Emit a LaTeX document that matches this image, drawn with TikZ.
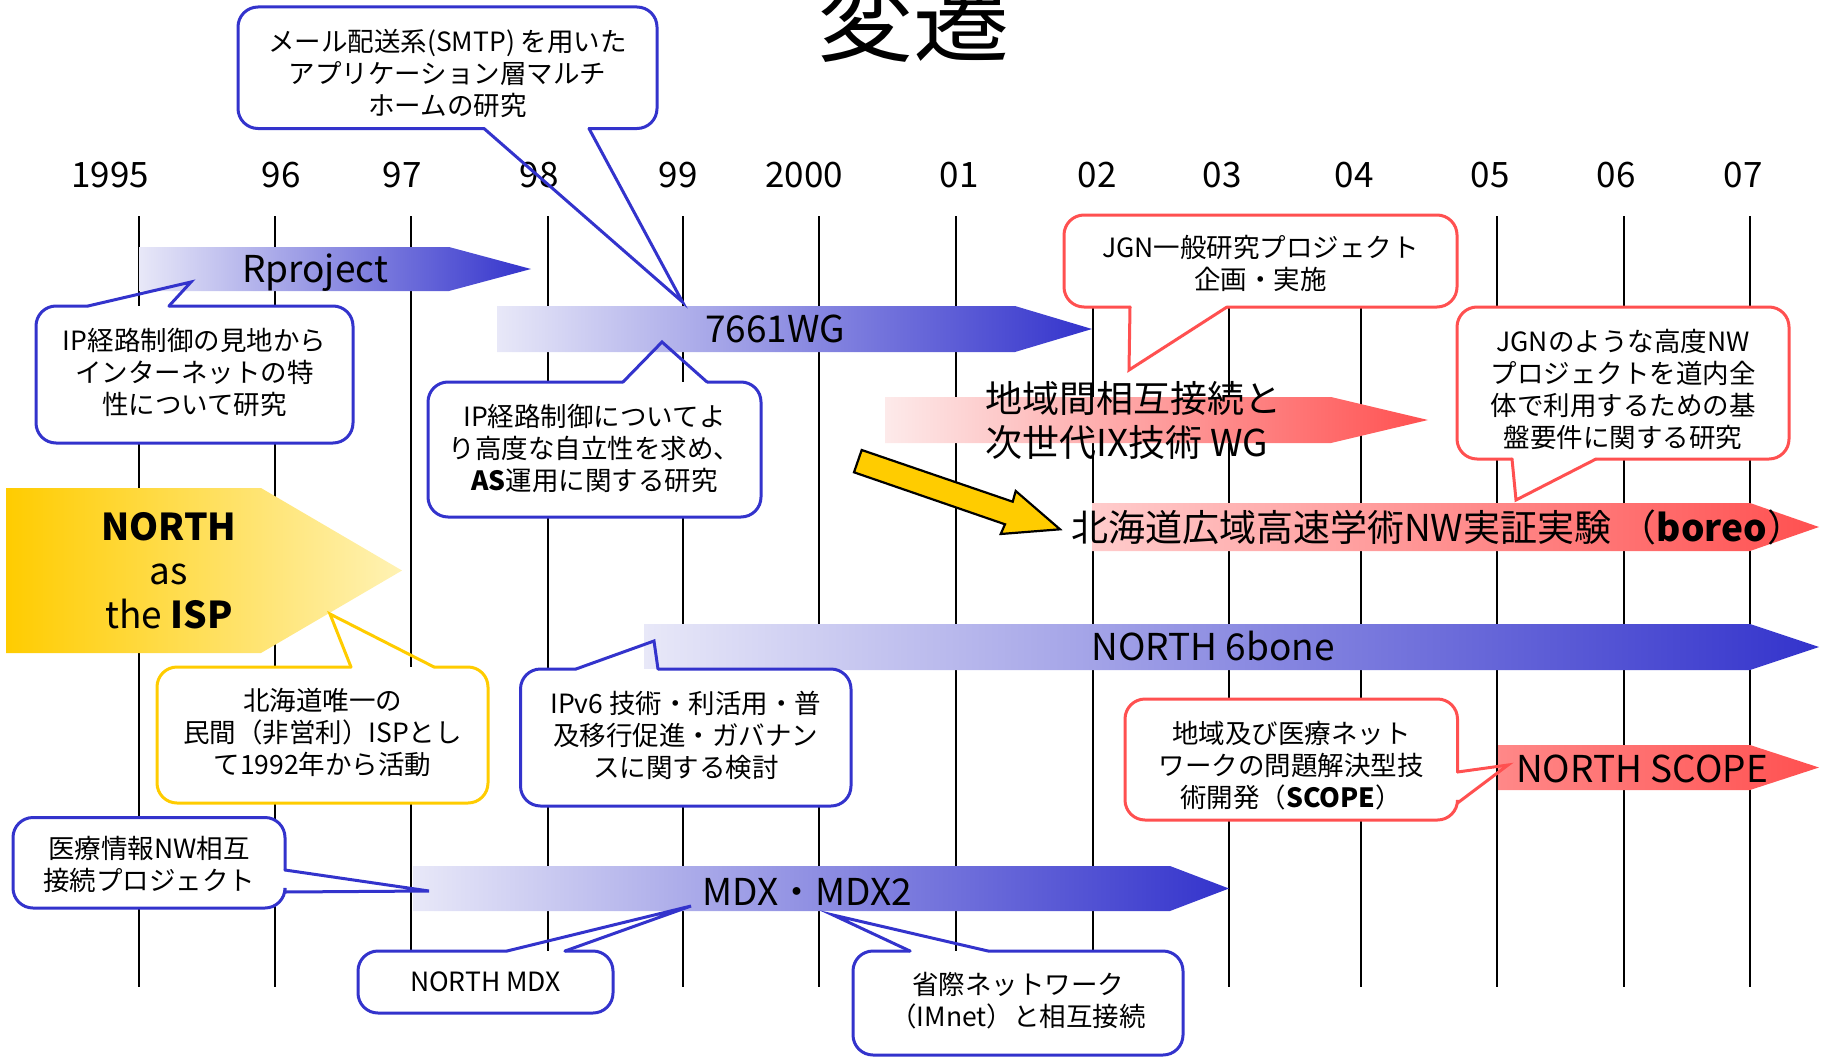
\documentclass[tikz,border=0pt]{standalone}
\usepackage{fontspec}
\setmainfont{Noto Sans CJK JP}

\definecolor{nblue}{RGB}{51,51,204}
\definecolor{nlav}{RGB}{232,232,248}
\definecolor{nred}{RGB}{255,80,80}
\definecolor{npink}{RGB}{253,234,234}
\definecolor{nrose}{RGB}{255,204,204}
\definecolor{nsalmon}{RGB}{255,136,136}
\definecolor{nyellow}{RGB}{255,204,0}
\definecolor{nlemon}{RGB}{255,242,180}

% bar: left colour, right colour, x start, x head, x tip, y top, y bottom
\newcommand\timebar[7]{%
	\shade[left color=#1, right color=#2] (#3,#6) -- (#4,#6) -- (#5,{(#6+#7)/2}) -- (#4,#7) -- (#3,#7) -- cycle;}

\tikzset{
	bubble/.style = {fill=white, rounded corners=20, inner sep=0, outer sep=0},
	note/.style = {inner sep=0, align=center, font=\fontsize{26.5}{32}\selectfont},
	rim/.style = {line width=3, rounded corners=20, line cap=round},
	beak/.style = {line width=3, line cap=round, line join=miter},
	bartext/.style = {font=\fontsize{37}{44}\selectfont, inner sep=0, anchor=base},
	year/.style = {font=\fontsize{35}{40}\selectfont, inner sep=0, anchor=base},
}

\begin{document}
\begin{tikzpicture}[x=1pt, y=-1pt]
	\useasboundingbox (0,0) rectangle (1825,1057);
	
	%	title
	\node[font=\fontsize{96}{96}\selectfont, anchor=base, inner sep=0] (title) at (913,55) {変遷};
	
	%	years
	\foreach \x/\yr in {110/1995, 281/96, 402/97, 539/98, 678/99, 804/2000, 959/01, 1097/02, 1222/03, 1354/04, 1490/05, 1616/06, 1743/07}
		\node[year] (y\yr) at (\x,187) {\yr};
	
	%	time lines
	\def\ytop{216}
	\def\ybot{987}
	\foreach \x in {139,275,411,548,683,819,956,1093,1229,1361,1497,1624,1750}
		\draw[line width=2.6] (\x,\ytop) -- (\x,\ybot);
	
	%	bars
	\timebar{nlav}{nblue}{139}{449}{531}{247}{291}
	\timebar{nlav}{nblue}{497}{1015}{1092}{306}{352}
	\timebar{npink}{nred}{885}{1331}{1428}{397}{443}
	\timebar{nrose}{nred}{1092}{1750}{1819}{503}{551}
	\timebar{nlav}{nblue}{644}{1750}{1819}{624}{670}
	\timebar{nsalmon}{nred}{1498}{1750}{1819}{745}{790}
	\timebar{nlav}{nblue}{413}{1170}{1229}{866}{911}
	\timebar{nyellow}{nlemon}{6}{261}{402}{488}{653}
	
	\node[bartext] (rproj) at (315,282) {Rproject};
	\node[bartext] (wg7661) at (775,342) {7661WG};
	\node[bartext, anchor=west, align=left] (ixwg) at (985,420.5) {地域間相互接続と\\次世代IX技術 WG};
	\node[bartext, anchor=base west] (boreo) at (1071,541) {北海道広域高速学術NW実証実験 （\textbf{boreo}）};
	\node[bartext] (sixbone) at (1213,660) {NORTH 6bone};
	\node[bartext] (scopebar) at (1642,782) {NORTH SCOPE};
	\node[bartext] (mdx) at (807,905) {MDX・MDX2};
	\node[bartext, anchor=center, align=center] (isp) at (169,571) {\textbf{NORTH}\\as\\the \textbf{ISP}};
	
	%	yellow arrow
	\draw[line width=2.2, fill=nyellow, line join=miter] (861.7,450) -- (1012.7,501.7) -- (1015.7,491) -- (1060,529.3) -- (1000.7,534) -- (1005,524.3) -- (854,472.3) -- cycle;
	
	%	callouts
	\node[bubble, minimum width=419, minimum height=121.5] (smtp) at (447.5,67.75) {};
	\node[note, yshift=-6] (smtptext) at (smtp) {メール配送系(SMTP) を用いた\\アプリケーション層マルチ\\ホームの研究};
	\coordinate (smtptip) at (682.5,302);
	\draw[rim, nblue] (589,128.5) -- (smtp.south east) -- (smtp.north east) -- (smtp.north west) -- (smtp.south west) -- (484,128.5);
	\draw[beak, nblue] (484,128.5) -- (smtptip) -- (589,128.5);
	
	\node[bubble, minimum width=317, minimum height=137] (ipview) at (194.5,374.5) {};
	\node[note, yshift=2] (ipviewtext) at (ipview) {IP経路制御の見地から\\インターネットの特\\性について研究};
	\coordinate (ipviewtip) at (191,282);
	\draw[rim, nblue] (169,306) -- (ipview.north east) -- (ipview.south east) -- (ipview.south west) -- (ipview.north west) -- (88,306);
	\draw[beak, nblue] (88,306) -- (ipviewtip) -- (169,306);
	
	\node[bubble, minimum width=333, minimum height=135] (ipas) at (594.5,449.5) {};
	\node[note, yshift=1] (ipastext) at (ipas) {IP経路制御についてよ\\り高度な自立性を求め、\\\textbf{AS}運用に関する研究};
	\coordinate (ipastip) at (662,342);
	\draw[rim, nblue] (707,382) -- (ipas.north east) -- (ipas.south east) -- (ipas.south west) -- (ipas.north west) -- (623,382);
	\draw[beak, nblue] (623,382) -- (ipastip) -- (707,382);
	
	\node[bubble, minimum width=393, minimum height=92] (jgnpro) at (1260.5,261) {};
	\node[note, yshift=-2] (jgnprotext) at (jgnpro) {JGN一般研究プロジェクト\\企画・実施};
	\coordinate (jgnprotip) at (1129,370);
	\draw[rim, nred] (1227,307) -- (jgnpro.south east) -- (jgnpro.north east) -- (jgnpro.north west) -- (jgnpro.south west) -- (1130,307);
	\draw[beak, nred] (1130,307) -- (jgnprotip) -- (1227,307);
	
	\node[bubble, minimum width=332, minimum height=152] (jgnbase) at (1623,383) {};
	\node[note, yshift=-6] (jgnbasetext) at (jgnbase) {JGNのような高度NW\\プロジェクトを道内全\\体で利用するための基\\盤要件に関する研究};
	\coordinate (jgnbasetip) at (1516,500);
	\draw[rim, nred] (1596,459) -- (jgnbase.south east) -- (jgnbase.north east) -- (jgnbase.north west) -- (jgnbase.south west) -- (1512,459);
	\draw[beak, nred] (1512,459) -- (jgnbasetip) -- (1596,459);
	
	\node[bubble, minimum width=331, minimum height=136] (ispnote) at (322.5,735) {};
	\node[note, yshift=3] (ispnotetext) at (ispnote) {北海道唯一の\\民間（非営利）ISPとし\\て1992年から活動};
	\coordinate (ispnotetip) at (330,614);
	\draw[rim, nyellow] (434,667) -- (ispnote.north east) -- (ispnote.south east) -- (ispnote.south west) -- (ispnote.north west) -- (351,667);
	\draw[beak, nyellow] (351,667) -- (ispnotetip) -- (434,667);
	
	\node[bubble, minimum width=330.5, minimum height=137] (ipv6) at (685.75,737.5) {};
	\node[note, yshift=2] (ipv6text) at (ipv6) {IPv6 技術・利活用・普\\及移行促進・ガバナン\\スに関する検討};
	\coordinate (ipv6tip) at (654,641);
	\draw[rim, nblue] (658,669) -- (ipv6.north east) -- (ipv6.south east) -- (ipv6.south west) -- (ipv6.north west) -- (576,669);
	\draw[beak, nblue] (576,669) -- (ipv6tip) -- (658,669);
	
	\node[bubble, minimum width=332.5, minimum height=121] (scope) at (1291.25,759.5) {};
	\node[note, yshift=-6] (scopetext) at (scope) {地域及び医療ネット\\ワークの問題解決型技\\術開発（\textbf{SCOPE}）};
	\coordinate (scopetip) at (1508,765);
	\draw[rim, nred] (1457.5,803) -- (scope.south east) -- (scope.south west) -- (scope.north west) -- (scope.north east) -- (1457.5,772);
	\draw[beak, nred] (1457.5,772) -- (scopetip) -- (1457.5,803);
	
	\node[bubble, minimum width=272, minimum height=90.5] (medical) at (149,862.75) {};
	\node[note, yshift=-1.5] (medicaltext) at (medical) {医療情報NW相互\\接続プロジェクト};
	\coordinate (medicaltip) at (429,891);
	\draw[rim, nblue] (285,892) -- (medical.south east) -- (medical.south west) -- (medical.north west) -- (medical.north east) -- (285,870);
	\draw[beak, nblue] (285,870) -- (medicaltip) -- (285,892);
	
	\node[bubble, minimum width=255, minimum height=62] (northmdx) at (485.5,982) {};
	\node[note] (northmdxtext) at (northmdx) {NORTH MDX};
	\coordinate (northmdxtip) at (691,906);
	\draw[rim, nblue] (565,951) -- (northmdx.north east) -- (northmdx.south east) -- (northmdx.south west) -- (northmdx.north west) -- (507,951);
	\draw[beak, nblue] (507,951) -- (northmdxtip) -- (565,951);
	
	\node[bubble, minimum width=330, minimum height=104] (imnet) at (1018,1003) {};
	\node[note, yshift=2] (imnettext) at (imnet) {省際ネットワーク\\（IMnet）と相互接続};
	\coordinate (imnettip) at (833,915);
	\draw[rim, nblue] (988,951) -- (imnet.north east) -- (imnet.south east) -- (imnet.south west) -- (imnet.north west) -- (910,951);
	\draw[beak, nblue] (910,951) -- (imnettip) -- (988,951);
\end{tikzpicture}
\end{document}
